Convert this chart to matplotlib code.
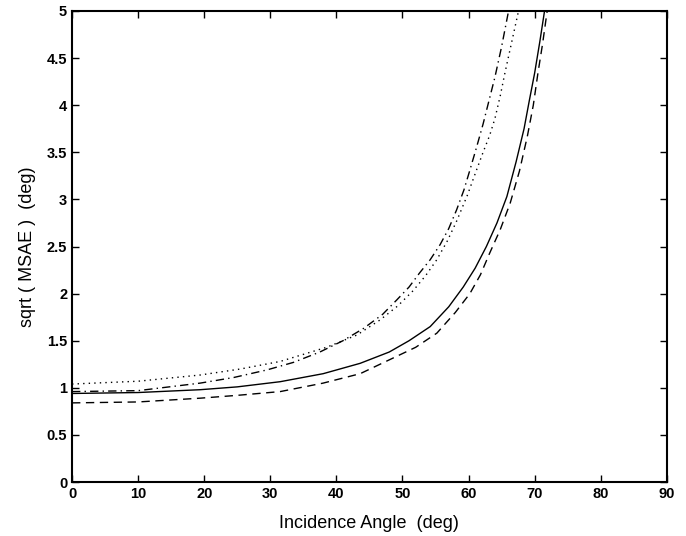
import matplotlib
matplotlib.use("Agg")
import matplotlib.pyplot as plt

# Data
solid_x = [0, 10, 19.4, 25, 31.5, 38, 43.6, 48, 51, 54.2, 57, 59.2, 61, 62.7, 64.3, 65.8,
           67.2, 68.4, 69.2, 70.0, 70.8, 71.5]
solid_y = [0.94, 0.95, 0.98, 1.01, 1.065, 1.15, 1.26, 1.38, 1.5, 1.65, 1.86, 2.07, 2.27, 2.5, 2.75, 3.03,
           3.4, 3.75, 4.05, 4.34, 4.68, 5.0]

dashed_x = [0, 10, 19.4, 25, 31.5, 38, 43.6, 48.1, 52, 55.2, 58, 60.2, 61.8, 63.2, 64.8, 66.3,
            67.7, 68.9, 69.8, 70.5, 71.2, 71.9]
dashed_y = [0.84, 0.85, 0.89, 0.92, 0.96, 1.05, 1.15, 1.30, 1.43, 1.58, 1.8, 2.0, 2.2, 2.43, 2.68, 2.96,
            3.3, 3.67, 4.0, 4.34, 4.65, 5.0]

dashdot_x = [0, 10, 19.4, 24.5, 29.5, 33.5, 37.5, 41, 44.1, 47, 49.1, 51, 52.6, 54.2, 55.7, 57,
             58.2, 59.3, 60.2, 61.2, 62.2, 63.1, 64.0, 65, 66]
dashdot_y = [0.96, 0.97, 1.05, 1.11, 1.19, 1.27, 1.38, 1.5, 1.63, 1.78, 1.93, 2.07, 2.22, 2.36, 2.52, 2.69,
             2.89, 3.1, 3.31, 3.55, 3.8, 4.05, 4.3, 4.62, 4.98]

dotted_x = [0, 10, 19.4, 25.5, 31.5, 38.5, 43.1, 46.6, 49.3, 51.6, 53.5, 55.2, 56.8, 58.2, 59.8,
            61.2, 62.2, 63.2, 64.0, 64.8, 65.5, 66.5, 67.5]
dotted_y = [1.04, 1.07, 1.136, 1.2, 1.28, 1.43, 1.56, 1.72, 1.87, 2.03, 2.19, 2.36, 2.56, 2.77, 3.04,
            3.31, 3.5, 3.68, 3.86, 4.1, 4.34, 4.66, 4.98]

x_ticks = [0, 10, 20, 30, 40, 50, 60, 70, 80, 90]
y_ticks = [0, 0.5, 1, 1.5, 2, 2.5, 3, 3.5, 4, 4.5, 5]
y_tick_labels = ["0", "0.5", "1", "1.5", "2", "2.5", "3", "3.5", "4", "4.5", "5"]

plt.rcParams['font.family'] = ['Liberation Sans', 'DejaVu Sans']

fig = plt.figure(figsize=(6.86, 5.36), dpi=100)
ax = fig.add_axes([0.105, 0.1007, 0.867, 0.8788])

lw = 1.0
ax.plot(solid_x, solid_y, color='black', linestyle='-', linewidth=lw)
ax.plot(dashed_x, dashed_y, color='black', linestyle=(0, (6, 4)), linewidth=lw)
ax.plot(dashdot_x, dashdot_y, color='black', linestyle=(0, (6, 3, 1, 3)), linewidth=lw)
ax.plot(dotted_x, dotted_y, color='black', linestyle=(0, (1, 3)), linewidth=lw)

ax.set_xlim(0, 90)
ax.set_ylim(0, 5)
ax.set_xticks(x_ticks)
ax.set_yticks(y_ticks)
ax.set_yticklabels(y_tick_labels)
ax.tick_params(direction='in', top=True, right=True, length=5, width=1, labelsize=10.5)
for lab in ax.get_xticklabels() + ax.get_yticklabels():
    lab.set_fontweight('bold')
for s in ax.spines.values():
    s.set_linewidth(1.5)

ax.set_xlabel("Incidence Angle  (deg)", fontsize=13, labelpad=10)
ax.set_ylabel("sqrt ( MSAE )  (deg)", fontsize=13, labelpad=8)

fig.savefig("out.png", dpi=100)
